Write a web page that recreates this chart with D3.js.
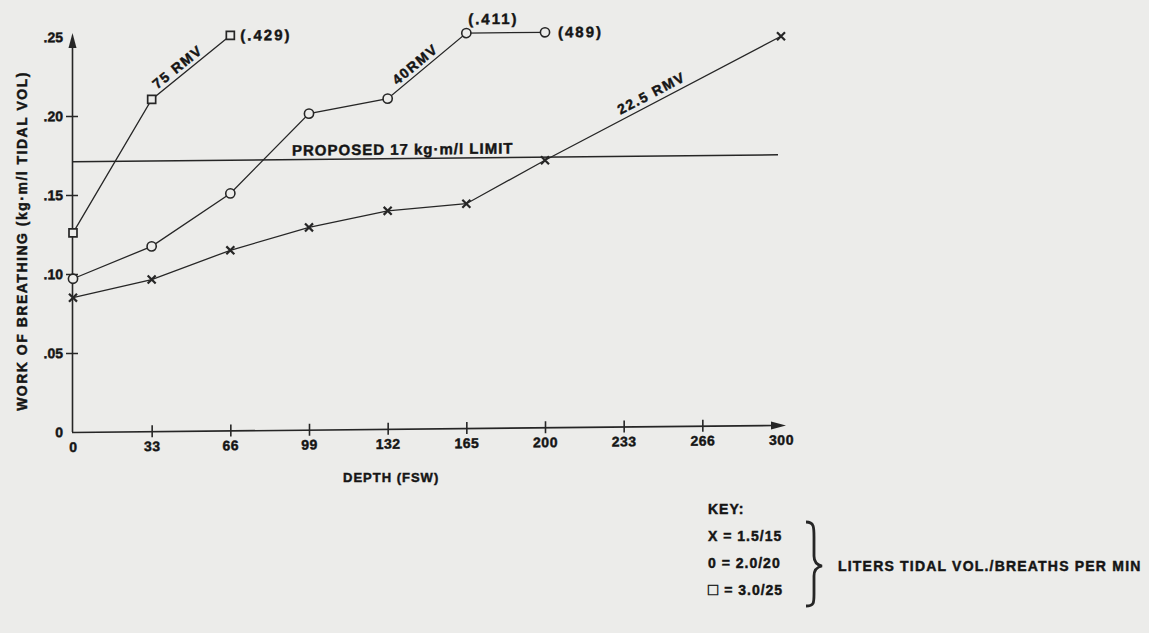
<!DOCTYPE html>
<html>
<head>
<meta charset="utf-8">
<script src="https://cdn.jsdelivr.net/npm/d3@7"></script>
<style>
  body { margin: 0; background: #ececea; }
  svg { display: block; }
  text { font-family: "Liberation Sans", Arial, sans-serif; font-weight: bold; fill: #151515; stroke: #151515; stroke-width: 0.45px; }
</style>
</head>
<body>
<div id="chart"></div>
<script>
// depth ticks (fsw), evenly spaced on the sheet
var depthTicks = [0, 33, 66, 99, 132, 165, 200, 233, 266, 300];
var wobTicks = [0, 0.05, 0.10, 0.15, 0.20, 0.25];

// square = 3.0/25  (75 RMV)
var depthSq = [0, 33, 66];
var wobSq = [0.126, 0.210, 0.429];

// O = 2.0/20  (40 RMV)
var depthO = [0, 33, 66, 99, 132, 165, 200];
var wobO = [0.097, 0.117, 0.150, 0.200, 0.209, 0.411, 0.489];

// X = 1.5/15  (22.5 RMV)
var depthX = [0, 33, 66, 99, 132, 165, 200, 300];
var wobX = [0.085, 0.096, 0.114, 0.128, 0.138, 0.142, 0.169, 0.246];

// off-scale values are written next to the point, as on the original
var offLabels = ["(.429)", "(.411)", "(489)"];

var limitWob = 0.171;
var keySymbols = ["X", "0", "\u25A1"];
var keyValues = ["1.5/15", "2.0/20", "3.0/25"];

document.addEventListener("DOMContentLoaded", function() {
    var w = 1149;
    var h = 633;
    var bg = "#ececea";
    var ink = "#262626";

    var svg = d3.select("#chart")
        .append("svg")
        .attr("width", w)
        .attr("height", h);

    svg.append("rect").attr("width", w).attr("height", h).attr("fill", bg);

    var x = d3.scalePoint()
        .domain(depthTicks)
        .range([73, 781]);

    var y = d3.scaleLinear()
        .domain([0, 0.25])
        .range([432, 37]);

    // values above the scale are pinned to the top of the chart
    function yc(v) { return y(Math.min(v, 0.25)); }

    // the scanned sheet is slightly sheared, right side higher
    var g = svg.append("g")
        .attr("transform", "translate(72,432) skewY(-0.57) translate(-72,-432)");

    // y axis with arrow
    g.append("line")
        .attr("x1", 72.5).attr("x2", 72.5)
        .attr("y1", 432).attr("y2", 44)
        .attr("stroke", ink).attr("stroke-width", 1.6);
    g.append("path")
        .attr("d", "M72.5,33L68.5,48L76.5,48Z")
        .attr("fill", ink);

    // x axis with arrow
    g.append("line")
        .attr("x1", 72).attr("x2", 774)
        .attr("y1", 432.5).attr("y2", 432.5)
        .attr("stroke", ink).attr("stroke-width", 1.6);
    g.append("path")
        .attr("d", "M786,432.5L771,428.5L771,436.5Z")
        .attr("fill", ink);

    var fmtY = function(d) {
        return d === 0 ? "0" : d3.format(".2f")(d).replace(/^0/, "");
    };

    var yAxis = g.append("g")
        .attr("transform", "translate(72,0)")
        .call(d3.axisLeft(y).tickValues(wobTicks).tickSize(0).tickPadding(9).tickFormat(fmtY));
    yAxis.select(".domain").remove();
    yAxis.selectAll(".tick text").style("font-size", "14px");
    yAxis.selectAll(".tick")
        .filter(function(d) { return d > 0 && d < 0.25; })
        .append("line")
        .attr("x1", -6).attr("x2", 6)
        .attr("stroke", ink).attr("stroke-width", 1.6);

    var xAxis = g.append("g")
        .attr("transform", "translate(0,432)")
        .call(d3.axisBottom(x).tickValues(depthTicks).tickSize(0).tickPadding(10));
    xAxis.select(".domain").remove();
    xAxis.selectAll(".tick text").style("font-size", "14px").style("letter-spacing", "0.5px");
    xAxis.selectAll(".tick")
        .filter(function(d) { return d > 0 && d < 300; })
        .append("line")
        .attr("y1", -6).attr("y2", 6)
        .attr("stroke", ink).attr("stroke-width", 1.6);

    // proposed limit line
    g.append("line")
        .attr("x1", 72).attr("x2", x(300) - 3)
        .attr("y1", y(limitWob)).attr("y2", y(limitWob))
        .attr("stroke", ink).attr("stroke-width", 1.6);
    g.append("text")
        .attr("x", 292)
        .attr("y", y(limitWob) - 4)
        .style("font-size", "15px")
        .style("letter-spacing", "1px")
        .text("PROPOSED 17 kg\u00b7m/l LIMIT");

    // seg = index of the point that ends the segment carrying the name
    var series = [
        { depth: depthSq, wob: wobSq, marker: "sq", name: "75 RMV", seg: 2, t: 0.4, off: 9 },
        { depth: depthO, wob: wobO, marker: "o", name: "40RMV", seg: 5, t: 0.42, off: 9 },
        { depth: depthX, wob: wobX, marker: "x", name: "22.5 RMV", seg: 7, t: 0.47, off: 10 }
    ];

    // where each off-scale note sits relative to its point
    var offPlace = [[10, 0, "start"], [27, -14, "middle"], [13, 0, "start"]];

    var line = d3.line()
        .x(function(d) { return x(d[0]); })
        .y(function(d) { return yc(d[1]); });

    var offIndex = 0;

    series.forEach(function(s) {
        var pts = s.depth.map(function(d, i) { return [d, s.wob[i]]; });

        g.append("path")
            .datum(pts)
            .attr("d", line)
            .attr("fill", "none")
            .attr("stroke", ink)
            .attr("stroke-width", 1.3);

        var m = g.selectAll(null)
            .data(pts)
            .enter()
            .append("g")
            .attr("transform", function(d) { return "translate(" + x(d[0]) + "," + yc(d[1]) + ")"; });

        if (s.marker === "o") {
            m.append("circle").attr("r", 4.6)
                .attr("fill", bg).attr("stroke", ink).attr("stroke-width", 1.6);
        } else if (s.marker === "sq") {
            m.append("rect").attr("x", -4).attr("y", -4).attr("width", 8).attr("height", 8)
                .attr("fill", bg).attr("stroke", ink).attr("stroke-width", 1.7);
        } else {
            m.append("path").attr("d", "M-4,-4L4,4M-4,4L4,-4")
                .attr("stroke", ink).attr("stroke-width", 2.2);
        }

        // series name along one segment
        var a = pts[s.seg - 1], b = pts[s.seg];
        var x1 = x(a[0]), y1 = yc(a[1]), x2 = x(b[0]), y2 = yc(b[1]);
        var dx = x2 - x1, dy = y2 - y1, len = Math.sqrt(dx * dx + dy * dy);
        var px = x1 + s.t * dx + s.off * dy / len;
        var py = y1 + s.t * dy - s.off * dx / len;
        var ang = Math.atan2(dy, dx) * 180 / Math.PI;
        g.append("text")
            .attr("transform", "translate(" + px + "," + py + ") rotate(" + ang + ")")
            .attr("text-anchor", "middle")
            .attr("dy", "0.35em")
            .style("font-size", "14px")
            .style("letter-spacing", "1.5px")
            .text(s.name);

        // notes for values beyond the top of the scale
        pts.forEach(function(p) {
            if (p[1] > 0.25) {
                var o = offPlace[offIndex];
                g.append("text")
                    .attr("x", x(p[0]) + o[0])
                    .attr("y", yc(p[1]) + o[1])
                    .attr("dy", "0.35em")
                    .attr("text-anchor", o[2])
                    .style("font-size", "15px")
                    .style("letter-spacing", "2px")
                    .text(offLabels[offIndex]);
                offIndex++;
            }
        });
    });

    // axis titles
    svg.append("text")
        .attr("transform", "translate(27,241) rotate(-90)")
        .attr("text-anchor", "middle")
        .style("font-size", "14px")
        .style("letter-spacing", "1.5px")
        .text("WORK OF BREATHING (kg\u00b7m/l TIDAL VOL)");

    svg.append("text")
        .attr("x", 343)
        .attr("y", 482)
        .style("font-size", "13px")
        .style("letter-spacing", "1px")
        .text("DEPTH (FSW)");

    // key
    var key = svg.append("g");
    key.append("text")
        .attr("x", 708).attr("y", 514)
        .style("font-size", "14px")
        .style("letter-spacing", "1px")
        .text("KEY:");
    var rows = key.selectAll(null)
        .data(keyValues)
        .enter()
        .append("text")
        .attr("x", 708)
        .attr("y", function(d, i) { return 541 + i * 27; })
        .style("font-size", "14px")
        .style("letter-spacing", "1px");
    rows.append("tspan")
        .style("font-size", function(d, i) { return i === 2 ? "17px" : "14px"; })
        .text(function(d, i) { return keySymbols[i]; });
    rows.append("tspan")
        .text(function(d) { return " = " + d; });

    key.append("path")
        .attr("d", "M806,522 C814,522 814,527 814,537 L814,556 C814,562 817,565 822,566 C817,567 814,570 814,576 L814,594 C814,603 814,606 806,606")
        .attr("fill", "none")
        .attr("stroke", ink)
        .attr("stroke-width", 2.8);

    key.append("text")
        .attr("x", 838).attr("y", 571)
        .style("font-size", "14px")
        .style("letter-spacing", "1.2px")
        .text("LITERS TIDAL VOL./BREATHS PER MIN");
});
</script>
</body>
</html>
